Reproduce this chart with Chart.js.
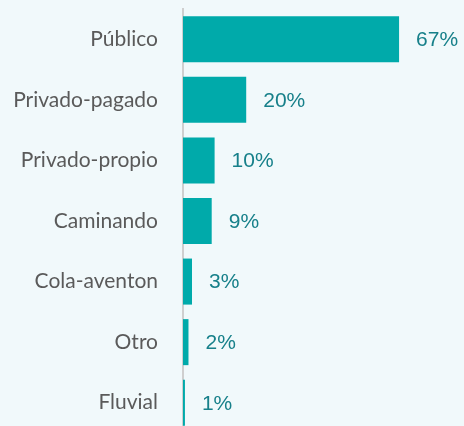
<!DOCTYPE html>
<html lang="es">
<head>
    <meta charset="UTF-8">
    <title>Medio de transporte</title>
    <script src="https://cdn.jsdelivr.net/npm/chart.js"></script>
    <style>
        html, body { margin: 0; padding: 0; background: #f1f9fb; overflow: hidden; }
        canvas { display: block; }
    </style>
</head>
<body>
    <canvas id="chart" width="464" height="433"></canvas>

    <script>
        // Datos
        const categories = ['Público', 'Privado-pagado', 'Privado-propio', 'Caminando', 'Cola-aventon', 'Otro', 'Fluvial'];
        const values = [67, 19.6, 9.8, 8.9, 2.8, 1.7, 0.6];
        const valueLabels = ['67%', '20%', '10%', '9%', '3%', '2%', '1%'];

        // etiquetas de valor a la derecha de cada barra
        const valueLabelPlugin = {
            id: 'valueLabels',
            afterDatasetsDraw(chart) {
                const ctx = chart.ctx;
                const meta = chart.getDatasetMeta(0);
                ctx.save();
                ctx.font = '21px "Liberation Sans"';
                ctx.fillStyle = '#17808a';
                ctx.textAlign = 'left';
                ctx.textBaseline = 'middle';
                meta.data.forEach((bar, i) => {
                    ctx.fillText(valueLabels[i], bar.x + 17, bar.y + 1);
                });
                ctx.restore();
            }
        };

        function drawChart() {
            new Chart(document.getElementById('chart'), {
                type: 'bar',
                data: {
                    labels: categories,
                    datasets: [{
                        data: values,
                        backgroundColor: '#00aaaa',
                        borderWidth: 0,
                        barPercentage: 0.76,
                        categoryPercentage: 1
                    }]
                },
                options: {
                    indexAxis: 'y',
                    responsive: false,
                    animation: false,
                    layout: { autoPadding: false, padding: { top: 9, right: 23, left: 0, bottom: 0 } },
                    plugins: {
                        legend: { display: false },
                        tooltip: { enabled: false }
                    },
                    scales: {
                        x: {
                            display: false,
                            min: 0,
                            max: 80
                        },
                        y: {
                            grid: { display: false },
                            border: { display: true, color: '#cfcfcf', width: 2 },
                            ticks: {
                                color: '#5a5a5a',
                                padding: 17,
                                font: { family: 'Lato', size: 21, weight: '400' }
                            },
                            afterFit(scale) {
                                scale.width = 183;
                                scale.paddingTop = 0;
                                scale.paddingBottom = 0;
                            }
                        }
                    }
                },
                plugins: [valueLabelPlugin]
            });
        }

        Promise.all([
            document.fonts.load('400 21px Lato'),
            document.fonts.load('21px "Liberation Sans"')
        ]).then(drawChart, drawChart);
    </script>
</body>
</html>
